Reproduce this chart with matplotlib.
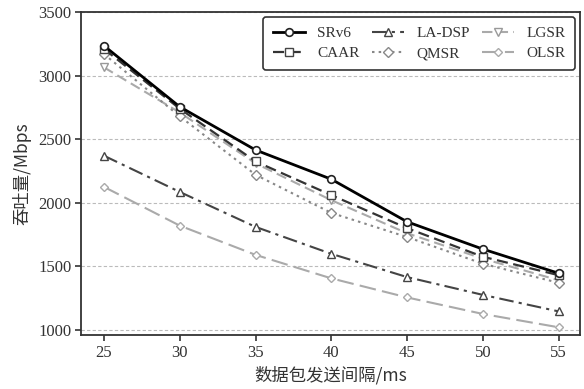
import matplotlib
matplotlib.use("Agg")
import matplotlib.pyplot as plt

plt.rcParams['font.family'] = ['Liberation Serif', 'Noto Sans CJK SC']
plt.rcParams['mathtext.fontset'] = 'stix'

x = [25, 30, 35, 40, 45, 50, 55]
srv6 = [3235, 2755, 2415, 2185, 1850, 1635, 1445]
caar = [3210, 2740, 2325, 2060, 1800, 1575, 1430]
ladsp = [2370, 2085, 1810, 1598, 1415, 1275, 1145]
qmsr = [3170, 2680, 2220, 1920, 1730, 1520, 1370]
lgsr = [3065, 2710, 2310, 2020, 1760, 1560, 1390]
olsr = [2125, 1820, 1590, 1405, 1255, 1125, 1020]
yticks = [1000, 1500, 2000, 2500, 3000, 3500]
xlabel = '数据包发送间隔/ms'
ylabel = '吞吐量/Mbps'

fig = plt.figure(figsize=(5.84, 3.89), dpi=100)
ax = fig.add_axes([0.139, 0.139, 0.854, 0.830])

ax.plot(x, srv6, color='black', lw=2.0, ls='-', marker='o', ms=5.5, mfc='white', mec='#222222', mew=1.2, label='SRv6', zorder=6)
ax.plot(x, caar, color='#333333', lw=1.6, ls=(0, (5, 2.5)), marker='s', ms=5.5, mfc='white', mec='#444444', mew=1.0, label='CAAR', zorder=5)
ax.plot(x, ladsp, color='#444444', lw=1.5, ls=(0, (7, 2.5, 1.5, 2.5)), marker='^', ms=5.5, mfc='white', mec='#444444', mew=1.0, label='LA-DSP', zorder=4)
ax.plot(x, qmsr, color='#888888', lw=1.5, ls=(0, (1.2, 2)), marker='D', ms=5, mfc='white', mec='#888888', mew=1.0, label='QMSR', zorder=4)
ax.plot(x, lgsr, color='#aaaaaa', lw=1.5, ls=(0, (5, 2.5)), marker='v', ms=5.5, mfc='white', mec='#999999', mew=1.0, label='LGSR', zorder=3)
ax.plot(x, olsr, color='#aaaaaa', lw=1.5, ls=(0, (8, 3)), marker='D', ms=4.2, mfc='white', mec='#aaaaaa', mew=1.0, label='OLSR', zorder=3)

ax.set_xlim(23.5, 56.4)
ax.set_ylim(960, 3500)
ax.set_xticks(x)
ax.set_yticks(yticks)
ax.tick_params(labelsize=12, direction='out', length=4, width=1.2, colors='#333333', pad=3)
ax.yaxis.grid(True, ls=(0, (3, 2)), color='#bbbbbb', lw=0.8)
ax.set_axisbelow(True)
for s in ax.spines.values():
    s.set_linewidth(1.3)
    s.set_color('#333333')

ax.set_xlabel(xlabel, fontsize=12.5, color='#333333', labelpad=4,
              family=['Noto Sans CJK SC', 'Liberation Serif'])
ax.set_ylabel(ylabel, fontsize=12.5, color='#333333', labelpad=5,
              family=['Noto Sans CJK SC', 'Liberation Serif'])

leg = ax.legend(ncol=3, loc='upper right', bbox_to_anchor=(1.0, 1.0), borderaxespad=0.3,
                fontsize=11, frameon=True, fancybox=True, edgecolor='#333333', framealpha=1,
                handlelength=2.1, columnspacing=0.8, handletextpad=0.8, borderpad=0.65,
                labelspacing=0.4)
leg.get_frame().set_linewidth(1.2)
for t in leg.get_texts():
    t.set_color('#333333')

fig.savefig('out.png', dpi=100)
